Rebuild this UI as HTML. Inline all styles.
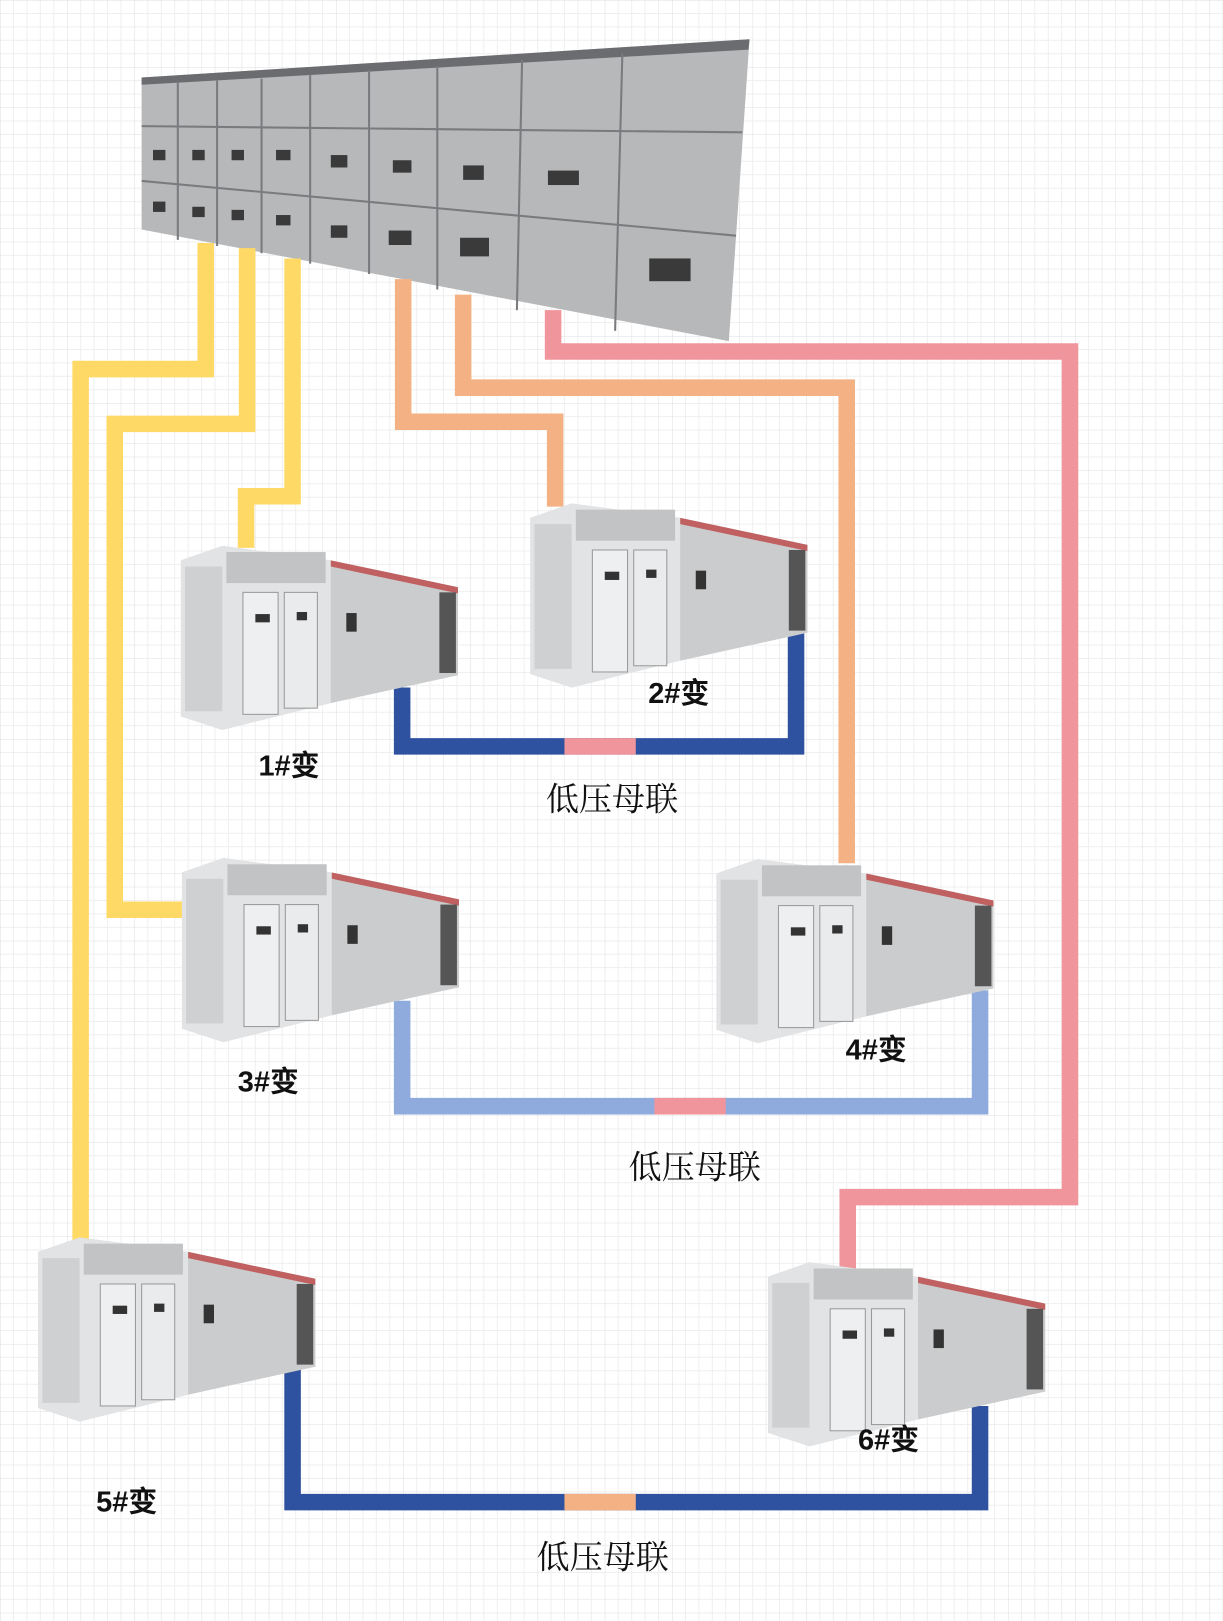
<!DOCTYPE html>
<html><head><meta charset="utf-8"><style>
html,body{margin:0;padding:0;background:#fff}
svg{display:block}
.lb{font-family:"Liberation Sans","Noto Sans CJK SC",sans-serif;font-weight:bold;font-size:28px;fill:#111}
.mu{font-family:"Liberation Serif","Noto Serif CJK SC",serif;font-size:32px;fill:#111}
</style></head><body>
<svg width="1223" height="1621" viewBox="0 0 1183 1568" preserveAspectRatio="none" xmlns="http://www.w3.org/2000/svg">
<defs>
<pattern id="g" width="65" height="65" patternUnits="userSpaceOnUse">
<path d="M13 0V65M26 0V65M39 0V65M52 0V65M0 13H65M0 26H65M0 39H65M0 52H65" stroke="#efefef" stroke-width="1"/>
<path d="M0 0V65M0 0H65" stroke="#dedede" stroke-width="1"/>
</pattern>
<g id="tr">
<polygon points="0,14 40,0 145,14 268,40 268,125 145,152 40,178 0,165" fill="#d2d3d5"/>
<polygon points="0,14 40,0 145,14 145,152 40,178 0,165" fill="#e2e3e5"/>
<polygon points="145,14 268,40 268,125 145,152" fill="#cbcccd"/>
<polygon points="145,14 268,40 268,46 145,20" fill="#c06060"/>
<rect x="4" y="20" width="36" height="140" fill="#cfd0d2"/>
<rect x="44" y="6" width="96" height="30" fill="#c2c3c5"/>
<rect x="60" y="45" width="34" height="118" fill="#eeeff1" stroke="#999"/>
<rect x="100" y="45" width="32" height="112" fill="#eaebed" stroke="#999"/>
<rect x="72" y="66" width="14" height="8" fill="#333"/>
<rect x="112" y="64" width="10" height="8" fill="#333"/>
<rect x="160" y="65" width="10" height="18" fill="#333"/>
<rect x="250" y="45" width="16" height="78" fill="#555"/>
</g>
</defs>
<rect width="1183" height="1568" fill="#fff"/>
<rect width="1183" height="1568" fill="url(#g)"/>

<polygon points="137,75 725,38 705,330 137,222" fill="#b7b8ba"/>
<polygon points="137,75 725,38 724,48 137,82" fill="#6a6c70"/>
<g stroke="#7a7b7e" stroke-width="2">
<line x1="172" y1="80" x2="172" y2="232"/><line x1="210" y1="78" x2="210" y2="238"/>
<line x1="253" y1="76" x2="253" y2="245"/><line x1="300" y1="72" x2="300" y2="255"/>
<line x1="357" y1="68" x2="357" y2="265"/><line x1="423" y1="64" x2="423" y2="280"/>
<line x1="505" y1="58" x2="500" y2="300"/><line x1="602" y1="52" x2="595" y2="320"/>
<line x1="137" y1="122" x2="718" y2="128"/><line x1="137" y1="175" x2="712" y2="228"/>
</g>
<g fill="#3a3a3a">
<rect x="148" y="145" width="12" height="10"/><rect x="186" y="145" width="12" height="10"/><rect x="224" y="145" width="12" height="10"/><rect x="267" y="145" width="14" height="10"/><rect x="320" y="150" width="16" height="12"/><rect x="380" y="155" width="18" height="12"/><rect x="448" y="160" width="20" height="14"/><rect x="530" y="165" width="30" height="14"/>
<rect x="148" y="195" width="12" height="10"/><rect x="186" y="200" width="12" height="10"/><rect x="224" y="203" width="12" height="10"/><rect x="267" y="208" width="14" height="10"/><rect x="320" y="218" width="16" height="12"/><rect x="376" y="223" width="22" height="14"/><rect x="445" y="230" width="28" height="18"/><rect x="628" y="250" width="40" height="22"/>
</g>

<g fill="none" stroke-width="16" stroke-linejoin="miter">
<path d="M199,235V357H78V1200M239,240V410H111V880H178M283,250V480H238V530" stroke="#FFD966"/>
<path d="M390,270V408H537V490M448,285V375H819V835" stroke="#F4B183"/>
<path d="M535,300V340H1035V1158H820V1228" stroke="#F0959B"/>
<path d="M389,665V722H770V612" stroke="#2F52A0"/>
<path d="M546,722H615" stroke="#F0959B"/>
<path d="M389,968V1070H948V958" stroke="#8FAADC"/>
<path d="M633,1070H702" stroke="#F0959B"/>
<path d="M283,1325V1453H948V1360" stroke="#2F52A0"/>
<path d="M546,1453H615" stroke="#F4B183"/>
</g>

<use href="#tr" x="175" y="528"/>
<use href="#tr" x="513" y="487"/>
<use href="#tr" x="176" y="830"/>
<use href="#tr" x="693" y="831"/>
<use href="#tr" x="37" y="1197"/>
<use href="#tr" x="743" y="1221"/>

<text class="lb" x="250" y="750">1#变</text>
<text class="lb" x="627" y="680">2#变</text>
<text class="lb" x="230" y="1056">3#变</text>
<text class="lb" x="818" y="1025">4#变</text>
<text class="lb" x="93" y="1462">5#变</text>
<text class="lb" x="830" y="1402">6#变</text>
<text class="mu" x="528" y="784">低压母联</text>
<text class="mu" x="608" y="1140">低压母联</text>
<text class="mu" x="519" y="1517">低压母联</text>
</svg>
</body></html>
